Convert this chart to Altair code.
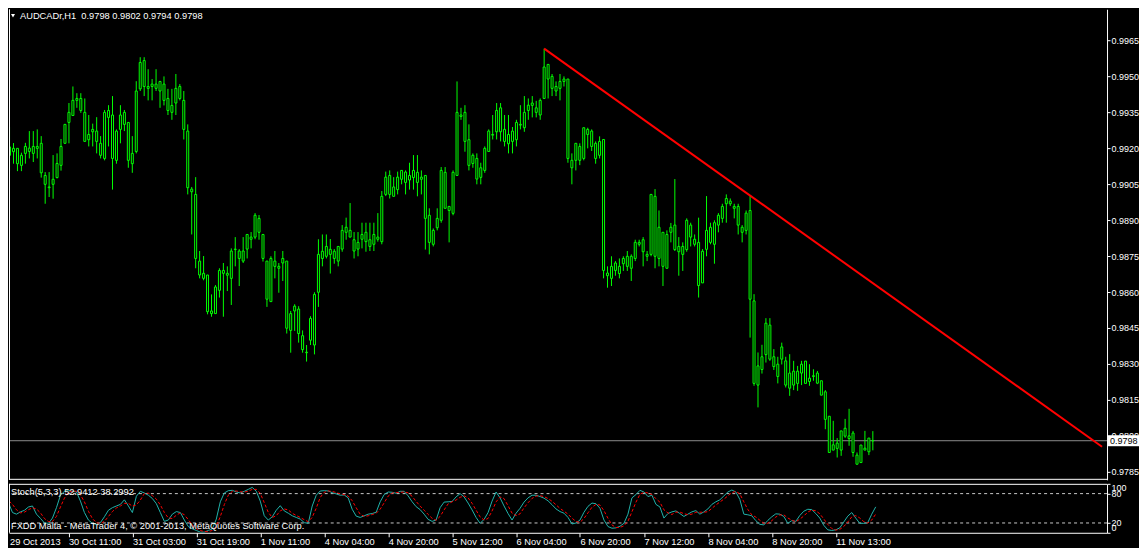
import json
import altair as alt
import pandas as pd

# ---------------- data ----------------
opens = [
    0.99170, 0.99199, 0.99199, 0.99128, 0.99178, 0.99200, 0.99178, 0.99207, 0.99220, 0.99086,
    0.99038, 0.99049, 0.99077, 0.99128, 0.99220, 0.99307, 0.99336, 0.99399, 0.99407, 0.99349,
    0.99235, 0.99268, 0.99271, 0.99220, 0.99157, 0.99328, 0.99338, 0.99149, 0.99278, 0.99349,
    0.99307, 0.99135, 0.99186, 0.99447, 0.99565, 0.99457, 0.99457, 0.99467, 0.99438, 0.99467,
    0.99407, 0.99349, 0.99388, 0.99457, 0.99399, 0.99271, 0.99029, 0.99007, 0.98729, 0.98657,
    0.98671, 0.98510, 0.98510, 0.98607, 0.98690, 0.98678, 0.98657, 0.98777, 0.98771, 0.98729,
    0.98779, 0.98829, 0.98829, 0.98907, 0.98840, 0.98729, 0.98560, 0.98729, 0.98707, 0.98721,
    0.98729, 0.98440, 0.98521, 0.98529, 0.98418, 0.98349, 0.98399, 0.98379, 0.98599, 0.98740,
    0.98749, 0.98778, 0.98740, 0.98729, 0.98779, 0.98849, 0.98857, 0.98818, 0.98779, 0.98820,
    0.98849, 0.98818, 0.98799, 0.98829, 0.98810, 0.99007, 0.99086, 0.98999, 0.99027, 0.99070,
    0.99100, 0.99067, 0.99077, 0.99099, 0.99070, 0.99086, 0.98920, 0.98799, 0.98868, 0.98899,
    0.99099, 0.98940, 0.98928, 0.99086, 0.99338, 0.99349, 0.99235, 0.99136, 0.99157, 0.99078,
    0.99107, 0.99186, 0.99257, 0.99268, 0.99368, 0.99278, 0.99218, 0.99228, 0.99235, 0.99299,
    0.99285, 0.99357, 0.99378, 0.99368, 0.99338, 0.99407, 0.99549, 0.99499, 0.99438, 0.99449,
    0.99478, 0.99488, 0.99149, 0.99149, 0.99207, 0.99157, 0.99278, 0.99271, 0.99220, 0.99170,
    0.99236, 0.98679, 0.98657, 0.98690, 0.98707, 0.98718, 0.98707, 0.98749, 0.98740, 0.98807,
    0.98818, 0.98757, 0.98757, 0.98999, 0.98740, 0.98849, 0.98699, 0.98849, 0.98879, 0.98768,
    0.98790, 0.98777, 0.98879, 0.98820, 0.98807, 0.98638, 0.98778, 0.98870, 0.98799, 0.98879,
    0.98907, 0.98968, 0.98979, 0.98957, 0.98957, 0.98849, 0.98857, 0.98940, 0.98563, 0.98212,
    0.98277, 0.98339, 0.98462, 0.98330, 0.98299, 0.98320, 0.98313, 0.98199, 0.98270, 0.98219,
    0.98262, 0.98312, 0.98227, 0.98251, 0.98262, 0.98230, 0.98184, 0.98082, 0.97941, 0.97970,
    0.97941, 0.97999, 0.98000, 0.98012, 0.97920, 0.97889, 0.97949, 0.97934, 0.97980,
]
highs = [
    0.99288, 0.99221, 0.99199, 0.99181, 0.99222, 0.99271, 0.99271, 0.99278, 0.99250, 0.99100,
    0.99100, 0.99171, 0.99178, 0.99238, 0.99299, 0.99388, 0.99457, 0.99429, 0.99429, 0.99407,
    0.99338, 0.99302, 0.99329, 0.99250, 0.99359, 0.99379, 0.99417, 0.99278, 0.99379, 0.99359,
    0.99307, 0.99250, 0.99479, 0.99579, 0.99579, 0.99529, 0.99488, 0.99529, 0.99478, 0.99499,
    0.99447, 0.99447, 0.99509, 0.99467, 0.99438, 0.99299, 0.99038, 0.99079, 0.98771, 0.98750,
    0.98671, 0.98590, 0.98629, 0.98699, 0.98721, 0.98707, 0.98782, 0.98829, 0.98779, 0.98829,
    0.98840, 0.98850, 0.98929, 0.98921, 0.98840, 0.98729, 0.98749, 0.98771, 0.98721, 0.98771,
    0.98729, 0.98521, 0.98549, 0.98541, 0.98440, 0.98379, 0.98499, 0.98599, 0.98820, 0.98840,
    0.98840, 0.98821, 0.98779, 0.98790, 0.98879, 0.98910, 0.98971, 0.98850, 0.98850, 0.98889,
    0.98889, 0.98889, 0.98889, 0.98929, 0.99021, 0.99102, 0.99107, 0.99079, 0.99102, 0.99107,
    0.99107, 0.99139, 0.99171, 0.99171, 0.99107, 0.99086, 0.98949, 0.98865, 0.98949, 0.99121,
    0.99121, 0.98957, 0.99107, 0.99478, 0.99368, 0.99379, 0.99299, 0.99178, 0.99178, 0.99139,
    0.99207, 0.99278, 0.99338, 0.99388, 0.99388, 0.99338, 0.99338, 0.99288, 0.99318, 0.99379,
    0.99417, 0.99407, 0.99417, 0.99397, 0.99407, 0.99615, 0.99549, 0.99509, 0.99478, 0.99509,
    0.99499, 0.99488, 0.99178, 0.99220, 0.99220, 0.99285, 0.99285, 0.99278, 0.99228, 0.99249,
    0.99236, 0.98707, 0.98749, 0.98729, 0.98740, 0.98749, 0.98771, 0.98757, 0.98818, 0.98818,
    0.98829, 0.98771, 0.99007, 0.99029, 0.98940, 0.98849, 0.98857, 0.98888, 0.99071, 0.98829,
    0.98807, 0.98907, 0.98889, 0.98840, 0.98910, 0.98779, 0.99000, 0.98889, 0.98899, 0.98929,
    0.98968, 0.99007, 0.98990, 0.98968, 0.98968, 0.98879, 0.98940, 0.99000, 0.98591, 0.98348,
    0.98380, 0.98491, 0.98491, 0.98362, 0.98330, 0.98389, 0.98330, 0.98341, 0.98313, 0.98292,
    0.98313, 0.98312, 0.98299, 0.98278, 0.98271, 0.98230, 0.98191, 0.98082, 0.98063, 0.97991,
    0.98021, 0.98071, 0.98113, 0.98021, 0.97931, 0.97962, 0.98021, 0.97991, 0.98020,
]
lows = [
    0.99104, 0.99135, 0.99104, 0.99104, 0.99135, 0.99157, 0.99142, 0.99157, 0.99077, 0.98968,
    0.98996, 0.98989, 0.99074, 0.99106, 0.99220, 0.99220, 0.99336, 0.99368, 0.99347, 0.99228,
    0.99207, 0.99207, 0.99178, 0.99157, 0.99149, 0.99207, 0.99027, 0.99135, 0.99220, 0.99271,
    0.99118, 0.99097, 0.99178, 0.99438, 0.99417, 0.99399, 0.99399, 0.99438, 0.99368, 0.99378,
    0.99338, 0.99318, 0.99338, 0.99399, 0.99236, 0.99007, 0.98840, 0.98699, 0.98657, 0.98649,
    0.98507, 0.98497, 0.98510, 0.98577, 0.98497, 0.98604, 0.98546, 0.98707, 0.98625, 0.98721,
    0.98740, 0.98782, 0.98820, 0.98818, 0.98727, 0.98538, 0.98560, 0.98657, 0.98597, 0.98646,
    0.98427, 0.98347, 0.98438, 0.98389, 0.98347, 0.98310, 0.98379, 0.98340, 0.98538, 0.98707,
    0.98740, 0.98677, 0.98718, 0.98707, 0.98768, 0.98818, 0.98829, 0.98740, 0.98749, 0.98782,
    0.98768, 0.98771, 0.98771, 0.98810, 0.98799, 0.99000, 0.98990, 0.98999, 0.99007, 0.99049,
    0.99007, 0.99027, 0.99027, 0.98999, 0.99007, 0.98777, 0.98757, 0.98790, 0.98857, 0.98889,
    0.98949, 0.98807, 0.98920, 0.99086, 0.99318, 0.99185, 0.99107, 0.99118, 0.99049, 0.99049,
    0.99097, 0.99186, 0.99236, 0.99236, 0.99228, 0.99207, 0.99178, 0.99178, 0.99207, 0.99278,
    0.99268, 0.99318, 0.99328, 0.99328, 0.99318, 0.99407, 0.99407, 0.99417, 0.99417, 0.99399,
    0.99457, 0.99139, 0.99049, 0.99107, 0.99129, 0.99149, 0.99199, 0.99188, 0.99135, 0.99157,
    0.98657, 0.98618, 0.98625, 0.98668, 0.98657, 0.98688, 0.98688, 0.98646, 0.98729, 0.98790,
    0.98707, 0.98729, 0.98749, 0.98699, 0.98707, 0.98625, 0.98699, 0.98807, 0.98771, 0.98668,
    0.98688, 0.98768, 0.98790, 0.98790, 0.98577, 0.98638, 0.98749, 0.98799, 0.98718, 0.98849,
    0.98889, 0.98889, 0.98959, 0.98907, 0.98840, 0.98807, 0.98840, 0.98410, 0.98209, 0.98119,
    0.98260, 0.98306, 0.98313, 0.98275, 0.98219, 0.98298, 0.98202, 0.98167, 0.98191, 0.98188,
    0.98212, 0.98219, 0.98209, 0.98230, 0.98216, 0.98170, 0.98028, 0.97931, 0.97941, 0.97910,
    0.97917, 0.97992, 0.97959, 0.97913, 0.97882, 0.97889, 0.97941, 0.97920, 0.97940,
]
closes = [
    0.99205, 0.99185, 0.99135, 0.99170, 0.99207, 0.99186, 0.99207, 0.99199, 0.99097, 0.99049,
    0.99035, 0.99070, 0.99136, 0.99207, 0.99299, 0.99349, 0.99399, 0.99407, 0.99357, 0.99228,
    0.99257, 0.99278, 0.99228, 0.99170, 0.99349, 0.99357, 0.99157, 0.99271, 0.99338, 0.99299,
    0.99149, 0.99178, 0.99438, 0.99557, 0.99457, 0.99449, 0.99467, 0.99449, 0.99478, 0.99399,
    0.99357, 0.99378, 0.99449, 0.99407, 0.99278, 0.99035, 0.99018, 0.98740, 0.98671, 0.98678,
    0.98518, 0.98521, 0.98621, 0.98690, 0.98678, 0.98670, 0.98771, 0.98779, 0.98740, 0.98771,
    0.98840, 0.98820, 0.98920, 0.98849, 0.98740, 0.98570, 0.98740, 0.98707, 0.98699, 0.98740,
    0.98449, 0.98510, 0.98541, 0.98427, 0.98360, 0.98347, 0.98490, 0.98590, 0.98757, 0.98770,
    0.98790, 0.98757, 0.98770, 0.98790, 0.98857, 0.98870, 0.98829, 0.98771, 0.98807, 0.98840,
    0.98810, 0.98790, 0.98840, 0.98820, 0.98999, 0.99079, 0.99007, 0.99038, 0.99079, 0.99107,
    0.99057, 0.99086, 0.99107, 0.99057, 0.99079, 0.98907, 0.98807, 0.98857, 0.98907, 0.99107,
    0.98949, 0.98957, 0.99099, 0.99349, 0.99332, 0.99228, 0.99128, 0.99170, 0.99071, 0.99118,
    0.99199, 0.99271, 0.99254, 0.99357, 0.99268, 0.99228, 0.99257, 0.99271, 0.99307, 0.99296,
    0.99349, 0.99379, 0.99388, 0.99349, 0.99399, 0.99538, 0.99488, 0.99449, 0.99457, 0.99478,
    0.99488, 0.99157, 0.99118, 0.99220, 0.99149, 0.99285, 0.99257, 0.99207, 0.99157, 0.99228,
    0.98690, 0.98668, 0.98707, 0.98721, 0.98677, 0.98740, 0.98749, 0.98699, 0.98807, 0.98799,
    0.98768, 0.98749, 0.99007, 0.98749, 0.98870, 0.98707, 0.98840, 0.98870, 0.98777, 0.98790,
    0.98757, 0.98899, 0.98829, 0.98799, 0.98627, 0.98770, 0.98857, 0.98807, 0.98889, 0.98920,
    0.98957, 0.98990, 0.98968, 0.98949, 0.98879, 0.98870, 0.98929, 0.98570, 0.98219, 0.98292,
    0.98330, 0.98470, 0.98320, 0.98289, 0.98248, 0.98371, 0.98212, 0.98262, 0.98212, 0.98270,
    0.98299, 0.98219, 0.98241, 0.98248, 0.98220, 0.98170, 0.98069, 0.97931, 0.97963, 0.97948,
    0.98021, 0.98032, 0.97989, 0.97931, 0.97882, 0.97962, 0.97941, 0.97991, 0.97980,
]

stoch_main = [
    71.3, 61.3, 41.3, 38.0, 42.7, 46.0, 52.7, 54.7, 38.0, 29.3,
    20.0, 19.3, 30.0, 51.3, 76.7, 84.7, 86.0, 84.7, 83.3, 64.7,
    41.3, 26.0, 19.3, 16.7, 20.7, 32.7, 46.0, 51.3, 54.7, 58.0,
    67.3, 54.7, 41.3, 74.7, 84.7, 81.3, 76.7, 70.0, 59.3, 41.3,
    23.3, 26.0, 38.0, 43.3, 41.3, 26.0, 12.7, 8.0, 4.7, 1.3,
    1.3, 4.7, 8.0, 28.0, 63.3, 81.3, 86.0, 86.7, 83.3, 81.3,
    84.7, 88.7, 92.7, 84.7, 64.7, 34.7, 26.0, 32.7, 46.0, 55.3,
    44.7, 40.0, 34.7, 31.3, 28.0, 20.7, 19.3, 54.7, 76.7, 85.3,
    86.0, 85.3, 82.0, 79.3, 76.7, 77.3, 71.3, 48.0, 34.0, 31.3,
    34.7, 38.0, 39.3, 42.0, 63.3, 78.0, 83.3, 82.7, 80.7, 84.7,
    84.7, 75.3, 63.3, 53.3, 47.3, 38.0, 27.3, 23.3, 26.0, 51.3,
    62.7, 63.3, 64.0, 73.3, 80.0, 73.3, 60.7, 46.7, 31.3, 19.3,
    27.3, 41.3, 64.7, 83.3, 71.3, 54.7, 39.3, 26.0, 40.0, 50.0,
    62.7, 71.3, 76.7, 76.7, 74.0, 70.7, 65.3, 57.3, 48.7, 43.3,
    40.0, 31.3, 18.0, 20.0, 26.0, 42.0, 54.0, 60.7, 59.3, 50.0,
    26.0, 12.7, 9.3, 10.0, 13.3, 19.3, 38.0, 71.3, 78.0, 86.7,
    83.3, 74.0, 76.7, 58.0, 52.7, 30.0, 39.3, 42.7, 44.7, 39.3,
    33.3, 38.0, 42.7, 45.3, 38.0, 42.7, 48.7, 58.0, 63.3, 67.3,
    75.3, 83.3, 87.3, 83.3, 68.0, 38.0, 36.7, 34.7, 24.7, 17.3,
    16.0, 25.3, 32.7, 38.7, 38.0, 33.3, 19.3, 24.7, 23.3, 35.3,
    44.0, 48.0, 47.3, 39.3, 30.0, 15.3, 6.0, 4.7, 6.0, 10.0,
    22.0, 34.0, 41.3, 30.0, 19.3, 19.3, 20.7, 38.0, 52.94,
]
stoch_signal = [
    68.0, 66.0, 58.0, 46.9, 40.7, 42.2, 47.1, 51.1, 48.5, 40.7,
    29.1, 22.9, 23.1, 33.5, 52.7, 70.9, 82.5, 85.1, 84.7, 77.6,
    63.1, 44.0, 28.9, 20.7, 18.9, 23.4, 33.1, 43.3, 50.7, 54.7,
    60.0, 60.0, 54.4, 56.9, 66.9, 80.2, 80.9, 76.0, 68.7, 56.9,
    41.3, 30.2, 29.1, 35.8, 40.9, 36.9, 26.7, 15.6, 8.5, 4.7,
    2.4, 2.4, 4.7, 13.6, 33.1, 57.5, 76.9, 84.7, 85.3, 83.8,
    83.1, 84.9, 88.7, 88.7, 80.7, 61.4, 41.8, 31.1, 34.9, 44.7,
    48.7, 46.7, 39.8, 35.3, 31.3, 26.7, 22.7, 31.6, 50.2, 72.2,
    82.7, 85.5, 84.4, 82.2, 79.3, 77.8, 75.1, 65.5, 51.1, 37.8,
    33.3, 34.7, 37.3, 39.8, 48.2, 61.1, 74.9, 81.3, 82.2, 82.7,
    83.4, 81.6, 74.4, 64.0, 54.6, 46.2, 37.5, 29.5, 25.5, 33.5,
    46.7, 59.1, 63.3, 66.9, 72.4, 75.5, 71.3, 60.2, 46.2, 32.4,
    26.0, 29.3, 44.4, 63.1, 73.1, 69.8, 55.1, 40.0, 35.1, 38.7,
    50.9, 61.3, 70.2, 74.9, 75.8, 73.8, 70.0, 64.4, 57.1, 49.8,
    44.0, 38.2, 29.8, 23.1, 21.3, 29.3, 40.7, 52.2, 58.0, 56.7,
    45.1, 29.6, 16.0, 10.7, 10.9, 14.2, 23.5, 42.9, 62.4, 78.7,
    82.7, 81.3, 78.0, 69.6, 62.5, 46.9, 40.7, 37.3, 42.2, 42.2,
    39.1, 36.9, 38.0, 42.0, 42.0, 42.0, 43.1, 49.8, 56.7, 62.9,
    68.6, 75.3, 82.0, 84.6, 79.5, 63.1, 47.6, 36.5, 32.0, 25.6,
    19.3, 19.5, 24.7, 32.2, 36.5, 36.7, 30.2, 25.8, 22.4, 27.8,
    34.2, 42.4, 46.4, 44.9, 38.9, 28.2, 17.1, 8.7, 5.6, 6.9,
    12.7, 22.0, 32.4, 35.1, 30.2, 22.9, 19.8, 26.0, 38.30,
]

tick_index = [0, 16, 32, 48, 64, 80, 96, 112, 128, 144, 160, 176, 192, 208]
tick_labels = ["29 Oct 2013", "30 Oct 11:00", "31 Oct 03:00", "31 Oct 19:00",
               "1 Nov 11:00", "4 Nov 04:00", "4 Nov 20:00", "5 Nov 12:00",
               "6 Nov 04:00", "6 Nov 20:00", "7 Nov 12:00", "8 Nov 04:00",
               "8 Nov 20:00", "11 Nov 13:00"]
price_ticks = [0.9785, 0.9800, 0.9815, 0.9830, 0.9845, 0.9860, 0.9875,
               0.9890, 0.9905, 0.9920, 0.9935, 0.9950, 0.9965]
stoch_ticks = [0, 20, 80, 100]
stoch_levels = [20, 80]

trend_index = [135, 275.875]
trend_price = [0.99615, 0.97955]
current_price = 0.9798
title_text = "AUDCADr,H1\u00a0 0.9798 0.9802 0.9794 0.9798"
stoch_text = "Stoch(5,3,3) 52.9412 38.2992"
copyright_text = "FXDD Malta - MetaTrader 4, \u00a9 2001-2013, MetaQuotes Software Corp."

# ---------------- chart ----------------
W = 1099
H_MAIN = 471
H_STOCH = 49
FONT = "Liberation Sans"
GREEN = "#00FF00"

# 4 px per bar, candle centres on half pixels
x_scale = alt.Scale(domain=[1.125, 275.875], nice=False, zero=False)
y_price = alt.Scale(domain=[0.97817, 0.99779], nice=False, zero=False)
y_stoch = alt.Scale(domain=[0, 100], nice=False, zero=False)

idx = list(range(len(closes)))
df = pd.DataFrame({"i": idx, "o": opens, "h": highs, "l": lows, "c": closes})
sdf = pd.DataFrame({"i": idx, "k": stoch_main, "d": stoch_signal})
one = pd.DataFrame({"a": [0]})

price_axis = alt.Axis(orient="right", values=price_ticks, format=".4f", grid=False,
                      title=None, labelColor="white", tickColor="white",
                      domainColor="white", tickSize=3, labelPadding=1,
                      labelFont=FONT, labelFontSize=9, labelOverlap=False,
                      labelFlush=False)
XQ = alt.X("i:Q", scale=x_scale, axis=None)
YP = lambda f: alt.Y(f, scale=y_price, axis=price_axis)

# frame lines (left and bottom) of the price panel
left_edge = alt.Chart(one).mark_rule(color="white", strokeWidth=1).encode(
    x=alt.value(0.5))
bottom_edge = alt.Chart(one).mark_rule(color="white", strokeWidth=1).encode(
    y=alt.value(H_MAIN - 0.5))

cur_line = alt.Chart(pd.DataFrame({"p": [current_price]})).mark_rule(
    color="#8C8C8C", strokeWidth=1).encode(y=YP("p:Q"))

wicks = alt.Chart(df).mark_rule(color=GREEN, strokeWidth=1, clip=True).encode(
    x=XQ, y=YP("l:Q"), y2="h:Q")

bodies = alt.Chart(df).mark_bar(size=2, fill="black", stroke=GREEN,
                                strokeWidth=1, opacity=1, clip=True).encode(
    x=XQ, y=YP("o:Q"), y2="c:Q")

trend = alt.Chart(pd.DataFrame({"i": trend_index, "p": trend_price})).mark_line(
    color="#FF0000", strokeWidth=2, clip=True).encode(x=XQ, y=YP("p:Q"))

box_df = pd.DataFrame({"p": [current_price], "t": ["0.9798"]})
box = alt.Chart(box_df).mark_rect(color="white", yOffset=-5.5, y2Offset=5.5).encode(
    x=alt.value(1100), x2=alt.value(1131), y=YP("p:Q"), y2="p:Q")
box_text = alt.Chart(box_df).mark_text(align="left", baseline="middle",
                                       color="black", font=FONT, fontSize=9).encode(
    x=alt.value(1102), y=YP("p:Q"), text="t:N")

title = alt.Chart(pd.DataFrame({"t": [title_text]})).mark_text(
    align="left", baseline="middle", color="white", font=FONT, fontSize=9.3).encode(
    x=alt.value(11), y=alt.value(7), text="t:N")
tri = alt.Chart(one).mark_point(
    shape="triangle-down", filled=True, size=16, color="white", opacity=1).encode(
    x=alt.value(4), y=alt.value(6.5))

main = alt.layer(cur_line, wicks, bodies, trend, left_edge, bottom_edge,
                 box, box_text, title, tri).properties(width=W, height=H_MAIN)

# stochastic panel
label_expr = f"{json.dumps(tick_labels)}[indexof({json.dumps(tick_index)}, datum.value)]"
x_axis = alt.Axis(values=tick_index[1:], labelExpr=label_expr, grid=False, title=None,
                  labelColor="white", tickColor="white", domainColor="white",
                  tickSize=4, labelPadding=1, labelAlign="left", labelFont=FONT,
                  labelFontSize=9.3, labelOverlap=False, labelFlush=False)
stoch_axis = alt.Axis(orient="right", values=stoch_ticks, grid=False, title=None,
                      labelColor="white", tickColor="white", domainColor="white",
                      tickSize=3, labelPadding=1, labelFont=FONT, labelFontSize=9,
                      labelFlush=True, labelOverlap=False)
XS = alt.X("i:Q", scale=x_scale, axis=x_axis)
YS = lambda f: alt.Y(f, scale=y_stoch, axis=stoch_axis)

s_left = alt.Chart(one).mark_rule(color="white", strokeWidth=1).encode(x=alt.value(0.5))
s_top = alt.Chart(one).mark_rule(color="white", strokeWidth=1).encode(y=alt.value(0.5))

levels = alt.Chart(pd.DataFrame({"v": stoch_levels})).mark_rule(
    color="#C8C8C8", strokeDash=[3, 3], strokeWidth=1).encode(y=YS("v:Q"))
k_line = alt.Chart(sdf).mark_line(color="#20B2AA", strokeWidth=1, clip=True).encode(
    x=XS, y=YS("k:Q"))
d_line = alt.Chart(sdf).mark_line(color="#FF0000", strokeWidth=1,
                                  strokeDash=[3, 2], clip=True).encode(
    x=XS, y=YS("d:Q"))
s_label = alt.Chart(pd.DataFrame({"t": [stoch_text]})).mark_text(
    align="left", baseline="middle", color="white", font=FONT, fontSize=9.3).encode(
    x=alt.value(2), y=alt.value(8), text="t:N")
c_label = alt.Chart(pd.DataFrame({"t": [copyright_text]})).mark_text(
    align="left", baseline="middle", color="white", font=FONT, fontSize=9.3).encode(
    x=alt.value(2), y=alt.value(42), text="t:N")
first_date = alt.Chart(pd.DataFrame({"t": [tick_labels[0]]})).mark_text(
    align="left", baseline="top", color="white", font=FONT, fontSize=9.3).encode(
    x=alt.value(1), y=alt.value(H_STOCH + 5), text="t:N")

stoch = alt.layer(levels, k_line, d_line, s_left, s_top, s_label, c_label,
                  first_date).properties(width=W, height=H_STOCH)

chart = alt.vconcat(main, stoch, spacing=2, padding=0, background="black").configure_view(
    strokeWidth=0, fill="black")

chart.save("out.html", embed_options={"renderer": "svg", "actions": False})
